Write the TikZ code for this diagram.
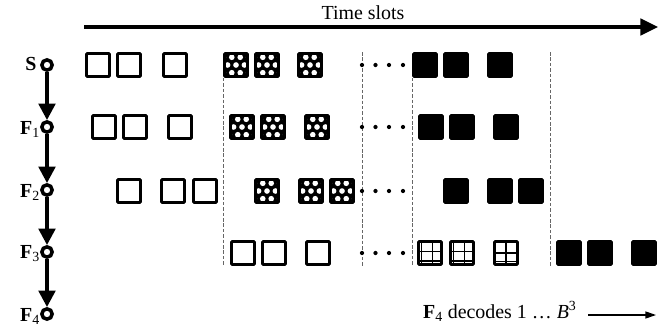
\documentclass[tikz,border=0pt]{standalone}
\usepackage{fontspec}
\setmainfont{Liberation Serif}
\usetikzlibrary{arrows.meta}

\begin{document}
\begin{tikzpicture}[
    x=0.03cm, y=-0.03cm,
    every node/.style={font=\fontsize{17}{20}\selectfont},
    slot/.style={rectangle, draw, line width=2.5pt, rounded corners=0.8pt, minimum size=19.6pt, inner sep=0pt},
    wbox/.style={slot, fill=white},
    bbox/.style={slot, fill=black},
    hbox/.style={slot, fill=black, path picture={
        \foreach \u/\v in {-.18/-.33, .18/-.33, -.54/-.33, .54/-.33, -.36/0, 0/0, .36/0, -.18/.33, .18/.33, -.54/.33, .54/.33}
            \fill[white] ([shift={(\u*20pt,\v*20pt)}]path picture bounding box.center) circle (2.4pt);}},
    gbox/.style={slot, fill=white, path picture={
        \draw[line width=1.2pt, shift={(path picture bounding box.center)}, x=1pt, y=1pt]
            (-7.4,-10) -- (-7.4,10) (2.2,-10) -- (2.2,10) (-10,1.2) -- (10,1.2) (-10,-6.8) -- (10,-6.8);}},
    cbox/.style={slot, fill=white, path picture={
        \draw[line width=1.2pt, shift={(path picture bounding box.center)}, x=1pt, y=1pt]
            (0,-10) -- (0,10) (-10,0) -- (10,0) (-10,-7.2) -- (10,-7.2);}},
    hop/.style={circle, draw, line width=3pt, fill=white, minimum size=8.8pt, inner sep=0pt},
    flow/.style={line width=3.2pt, -{Triangle[length=14pt,width=14pt]}},
    sep/.style={black!60, line width=0.7pt, dash pattern=on 3pt off 1.6pt}
]
    \useasboundingbox (0,0) rectangle (659,333);

    % time axis
    \coordinate (t0) at (84,27);
    \coordinate (t1) at (658,27);
    \draw[line width=2.8pt, -{Triangle[length=15pt,width=14pt]}] (t0) -- (t1);
    \node (ts) at (363,13) {Time slots};

    % relay chain
    \foreach \n/\y in {S/65, F1/127, F2/190, F3/252, F4/314}
        \node[hop] (n\n) at (47,\y) {};
    \node (lS) at (31,64) {\textbf{S}};
    \foreach \k/\y in {1/127, 2/190, 3/252, 4/314}
        \node (lF\k) at (30,\y+2) {\textbf{F}\textsubscript{\k}};
    \draw[flow] (nS) -- (nF1);
    \draw[flow] (nF1) -- (nF2);
    \draw[flow] (nF2) -- (nF3);
    \draw[flow] (nF3) -- (nF4);

    % S row
    \foreach \x [count=\k] in {85,116,162} \node[wbox] (sw\k) at (\x+13,65) {};
    \foreach \x [count=\k] in {223,254,297} \node[hbox] (sh\k) at (\x+13,65) {};
    \foreach \x [count=\k] in {412,443,487} \node[bbox] (sb\k) at (\x+13,65) {};

    % F1 row
    \foreach \x [count=\k] in {91,122,167} \node[wbox] (aw\k) at (\x+13,127) {};
    \foreach \x [count=\k] in {229,260,304} \node[hbox] (ah\k) at (\x+13,127) {};
    \foreach \x [count=\k] in {418,449,493} \node[bbox] (ab\k) at (\x+13,127) {};

    % F2 row
    \foreach \x [count=\k] in {116,160,192} \node[wbox] (bw\k) at (\x+13,191) {};
    \foreach \x [count=\k] in {254,298,329} \node[hbox] (bh\k) at (\x+13,191) {};
    \foreach \x [count=\k] in {443,487,518} \node[bbox] (bb\k) at (\x+13,191) {};

    % F3 row
    \foreach \x [count=\k] in {230,261,305} \node[wbox] (cw\k) at (\x+13,253) {};
    \node[gbox] (cg1) at (430,253) {};
    \node[gbox] (cg2) at (462,253) {};
    \node[cbox] (cg3) at (506,253) {};
    \foreach \x [count=\k] in {556,587,631} \node[bbox] (cb\k) at (\x+13,253) {};

    % slot boundaries
    \coordinate (d2) at (362,52);
    \coordinate (d4) at (550,52);
    \draw[sep] (sh1.south west) -- (sh1.south west |- cw1.south);
    \draw[sep] (d2) -- (d2 |- cw1.south);
    \draw[sep] (sb1.south west) -- (sb1.south west |- cw1.south);
    \draw[sep] (d4) -- (d4 |- cw1.south);

    \foreach \r in {65,127,191,253}
        \foreach \x in {362,375.5,389,403}
            \fill (\x,\r) circle (1.8pt);

    % decoding note
    \node[anchor=base west] (dec) at (419,318) {\textbf{F}\textsubscript{4} decodes 1 \ldots{} \textit{B}\textsuperscript{3}};
    \coordinate (a0) at (588,315);
    \coordinate (a1) at (656,315);
    \draw[line width=1pt, -{Triangle[length=9pt,width=6pt]}] (a0) -- (a1);
\end{tikzpicture}
\end{document}
